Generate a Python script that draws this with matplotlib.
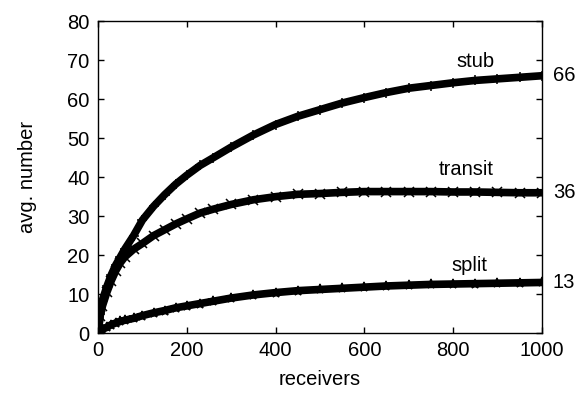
import matplotlib
matplotlib.use("Agg")
import matplotlib.pyplot as plt

plt.rcParams['font.family'] = ['Liberation Sans', 'DejaVu Sans']

# values
receivers = [0, 5, 10, 20, 30, 40, 50, 60, 80, 100, 125, 150, 175, 200, 230, 260,
             300, 350, 400, 450, 500, 550, 600, 650, 700, 750, 800, 850, 900, 950, 1000]
stub = [0, 5, 8.5, 12, 15, 17.5, 19.5, 21.5, 25, 29, 32.5, 35.5, 38.2, 40.5, 43, 45,
        47.7, 50.8, 53.5, 55.6, 57.3, 59, 60.4, 61.7, 62.8, 63.5, 64.2, 64.8, 65.2, 65.6, 66]
transit = [0, 4.5, 7, 10.5, 13.5, 16, 18, 19.5, 21.5, 23, 25, 26.5, 28, 29.3, 30.8, 31.8,
           33, 34.2, 35, 35.6, 35.8, 36.1, 36.3, 36.3, 36.3, 36.3, 36.2, 36.2, 36.1, 36.0, 36]
split = [0, 0.5, 1, 1.5, 2.2, 2.6, 3, 3.3, 3.8, 4.5, 5.2, 5.8, 6.5, 7, 7.6, 8.2,
         9, 9.8, 10.4, 10.9, 11.2, 11.5, 11.8, 12.1, 12.3, 12.5, 12.6, 12.7, 12.8, 12.9, 13]

series = [("stub", stub, "+", (850, 67.3)),
          ("transit", transit, "x", (830, 39.6)),
          ("split", split, "*", (838, 15.0))]

FS = 14.5

fig = plt.figure(figsize=(5.87, 3.99), dpi=100)
ax = fig.add_axes([0.167, 0.165, 0.756, 0.782])

for name, vals, mk, (lx, ly) in series:
    ax.plot(receivers, vals, '-', color='black', lw=5.5, solid_capstyle='round')
    ax.plot(receivers, vals, mk, color='black', ms=7, mew=1.1)
    ax.text(lx, ly, name, ha='center', va='bottom', fontsize=FS)
    ax.annotate(f"{vals[-1]:g}", xy=(1, vals[-1]), xycoords=('axes fraction', 'data'),
                xytext=(8, 0), textcoords='offset points', ha='left', va='center',
                fontsize=FS)

ax.set_xlim(0, 1000)
ax.set_ylim(0, 80)
ax.set_xticks(range(0, 1001, 200))
ax.set_yticks(range(0, 81, 10))
ax.tick_params(direction='in', top=True, right=True, length=4, width=1,
               labelsize=FS, pad=6)
for s in ax.spines.values():
    s.set_linewidth(1)
ax.set_xlabel('receivers', fontsize=FS, labelpad=7)
ax.set_ylabel('avg. number', fontsize=FS, labelpad=22)

fig.savefig('out.png', dpi=100)
